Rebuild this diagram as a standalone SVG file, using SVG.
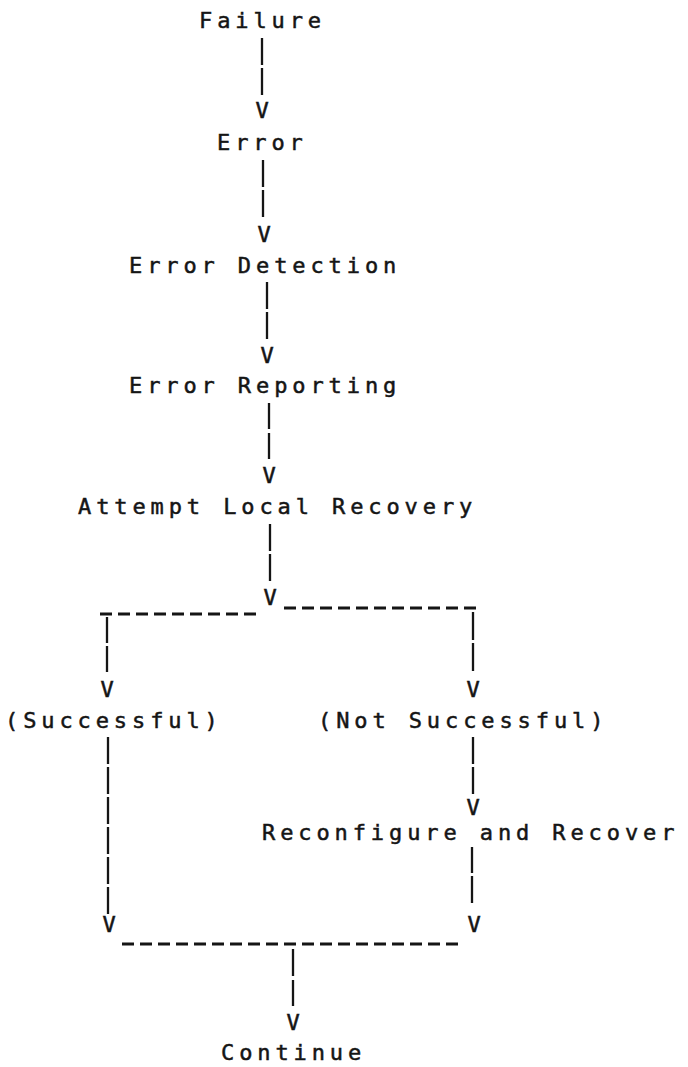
<svg xmlns="http://www.w3.org/2000/svg" width="688" height="1067" viewBox="0 0 688 1067">
<style>
  .t { font-family: "DejaVu Sans Mono", "Liberation Mono", monospace; font-size: 22px; letter-spacing: 4.9px; fill: #151515; stroke: #151515; stroke-width: 0.5; }
  .v { font-family: "DejaVu Sans Mono", "Liberation Mono", monospace; font-size: 22px; fill: #151515; stroke: #151515; stroke-width: 0.5; text-anchor: middle; }
  .p { stroke: #151515; stroke-width: 2.3; fill: none; }
  .d { stroke: #151515; stroke-width: 3; fill: none; stroke-dasharray: 12 6; }
</style>
<rect width="688" height="1067" fill="#ffffff"/>
<g id="connectors">
  <line class="p" x1="262" y1="38" x2="262" y2="65"/>
  <line class="p" x1="262" y1="68" x2="262" y2="95"/>
  <text class="v" x="262" y="118">V</text>
  <line class="p" x1="263" y1="160" x2="263" y2="187"/>
  <line class="p" x1="263" y1="190" x2="263" y2="217"/>
  <text class="v" x="264" y="242">V</text>
  <line class="p" x1="267" y1="282" x2="267" y2="309"/>
  <line class="p" x1="267" y1="312" x2="267" y2="339"/>
  <text class="v" x="267" y="363">V</text>
  <line class="p" x1="269" y1="403" x2="269" y2="429"/>
  <line class="p" x1="269" y1="433" x2="269" y2="459"/>
  <text class="v" x="269" y="483">V</text>
  <line class="p" x1="270" y1="524" x2="270" y2="551"/>
  <line class="p" x1="270" y1="554" x2="270" y2="581"/>
  <text class="v" x="270" y="605">V</text>
  <line class="d" x1="100" y1="614" x2="259" y2="614"/>
  <line class="d" x1="284" y1="608" x2="478" y2="608"/>
  <line class="p" x1="107" y1="617" x2="107" y2="643"/>
  <line class="p" x1="107" y1="646" x2="107" y2="672"/>
  <text class="v" x="107" y="697">V</text>
  <line class="p" x1="473" y1="612" x2="473" y2="640"/>
  <line class="p" x1="473" y1="643" x2="473" y2="671"/>
  <text class="v" x="473" y="697">V</text>
  <line class="p" x1="473" y1="737" x2="473" y2="764"/>
  <line class="p" x1="473" y1="767" x2="473" y2="794"/>
  <text class="v" x="473" y="815">V</text>
  <line class="p" x1="472" y1="847" x2="472" y2="873"/>
  <line class="p" x1="472" y1="876" x2="472" y2="903"/>
  <text class="v" x="474" y="932">V</text>
  <line class="p" x1="108" y1="737" x2="108" y2="764"/>
  <line class="p" x1="108" y1="767" x2="108" y2="794"/>
  <line class="p" x1="108" y1="797" x2="108" y2="824"/>
  <line class="p" x1="108" y1="827" x2="108" y2="854"/>
  <line class="p" x1="108" y1="857" x2="108" y2="884"/>
  <line class="p" x1="108" y1="887" x2="108" y2="914"/>
  <text class="v" x="109" y="932">V</text>
  <line class="d" x1="122" y1="944" x2="463" y2="944"/>
  <line class="p" x1="293" y1="949" x2="293" y2="976"/>
  <line class="p" x1="293" y1="980" x2="293" y2="1006"/>
  <text class="v" x="293" y="1030">V</text>
</g>
<g id="node-failure"><text class="t" x="199" y="28">Failure</text></g>
<g id="node-error"><text class="t" x="217" y="150">Error</text></g>
<g id="node-error-detection"><text class="t" x="129" y="273">Error Detection</text></g>
<g id="node-error-reporting"><text class="t" x="129" y="393">Error Reporting</text></g>
<g id="node-attempt-local-recovery"><text class="t" x="78" y="514">Attempt Local Recovery</text></g>
<g id="node-successful"><text class="t" x="5" y="728">(Successful)</text></g>
<g id="node-not-successful"><text class="t" x="318" y="728">(Not Successful)</text></g>
<g id="node-reconfigure"><text class="t" x="262" y="840">Reconfigure and Recover</text></g>
<g id="node-continue"><text class="t" x="221" y="1060">Continue</text></g>
</svg>
